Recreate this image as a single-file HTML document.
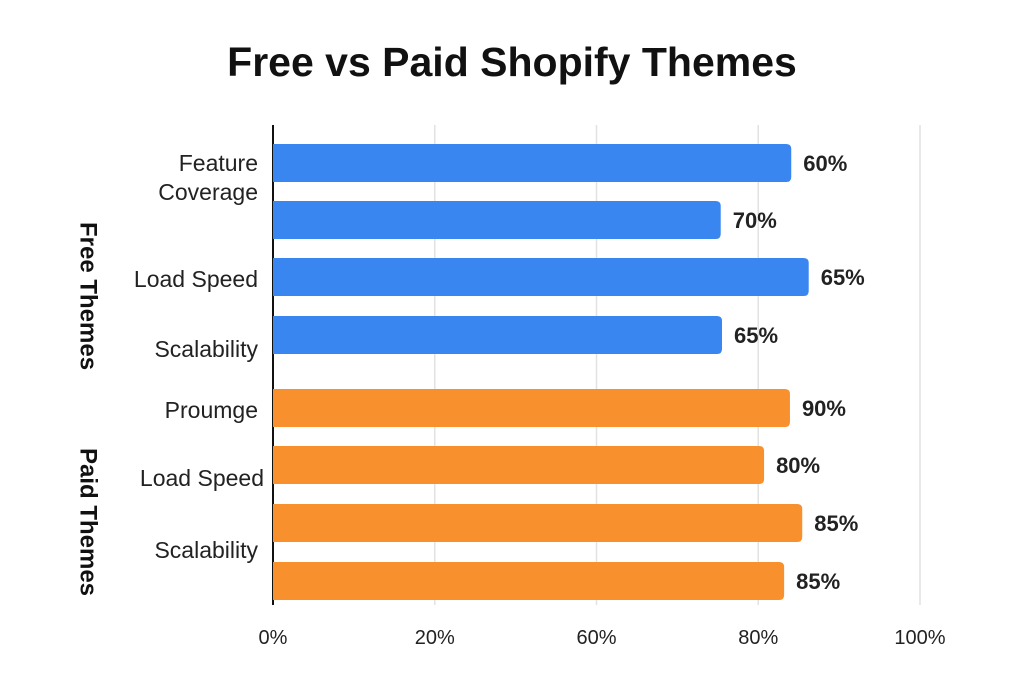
<!DOCTYPE html>
<html><head><meta charset="utf-8"><style>
body{margin:0;background:#fff;font-family:"Liberation Sans",sans-serif;}
svg{display:block}
</style></head><body>
<svg id="chart" width="1024" height="683" viewBox="0 0 1024 683">
<text x="512" y="76" text-anchor="middle" font-size="41" font-weight="bold" fill="#111">Free vs Paid Shopify Themes</text>
<g id="grid"></g><g id="bars"></g><g id="labels"></g>
<text transform="translate(87,296) rotate(90)" text-anchor="middle" dominant-baseline="middle" font-size="24" font-weight="bold" fill="#111">Free Themes</text>
<text transform="translate(87,522) rotate(90)" text-anchor="middle" dominant-baseline="middle" font-size="24" font-weight="bold" fill="#111">Paid Themes</text>
</svg>
<script>
const barValues=[80.1,69.2,82.8,69.4,79.9,75.9,81.8,79.0];
const valueLabels=["60%","70%","65%","65%","90%","80%","85%","85%"];
const groups=["free","free","free","free","paid","paid","paid","paid"];
const tickValues=[0,25,50,75,100];
const tickLabels=["0%","20%","60%","80%","100%"];
const categoryLabels=[{t:["Feature","Coverage"],y:[171,200]},{t:["Load Speed"],y:[287]},{t:["Scalability"],y:[357]},{t:["Proumge"],y:[418]},{t:["Load Speed"],y:[486]},{t:["Scalability"],y:[558]}];
const NS="http://www.w3.org/2000/svg";
const x0=273,x1=920;
const xs=v=>x0+(v/100)*(x1-x0);
const barTops=[144,201,258,316,389,446,504,562];
const colors={free:"#3a86f0",paid:"#f7902d"};
function mk(tag,attrs,parent){const e=document.createElementNS(NS,tag);for(const k in attrs)e.setAttribute(k,attrs[k]);parent.appendChild(e);return e;}
const grid=document.getElementById('grid'),bars=document.getElementById('bars'),labels=document.getElementById('labels');
tickValues.forEach((v,i)=>{
  if(i>0){const l=mk('line',{x1:xs(v),x2:xs(v),y1:125,y2:605,stroke:'#e2e2e2','stroke-width':1.5},grid);
  
  }
  const t=mk('text',{x:xs(v),y:644,'text-anchor':'middle','font-size':20,fill:'#222'},grid);
  t.textContent=tickLabels[i];
  
  
});
const ax=mk('line',{x1:x0,x2:x0,y1:125,y2:605,stroke:'#111','stroke-width':2},grid);


barValues.forEach((v,i)=>{
  const y=barTops[i],h=38,w=xs(v)-x0;
  const p=mk('path',{d:`M${x0},${y}H${x0+w-5}Q${x0+w},${y} ${x0+w},${y+5}V${y+h-5}Q${x0+w},${y+h} ${x0+w-5},${y+h}H${x0}Z`,fill:colors[groups[i]]},bars);
  
  
  const t=mk('text',{x:xs(v)+12,y:y+h/2+8,'font-size':22,'font-weight':'bold',fill:'#222'},labels);
  t.textContent=valueLabels[i];
  
  
});
categoryLabels.forEach((c,i)=>{
  c.t.forEach((s,j)=>{
    const t=mk('text',{x:i==4?264:258,y:c.y[j],'text-anchor':'end','font-size':23,fill:'#222'},labels);
    t.textContent=s;
    
    
  });
});
</script>
</body></html>
